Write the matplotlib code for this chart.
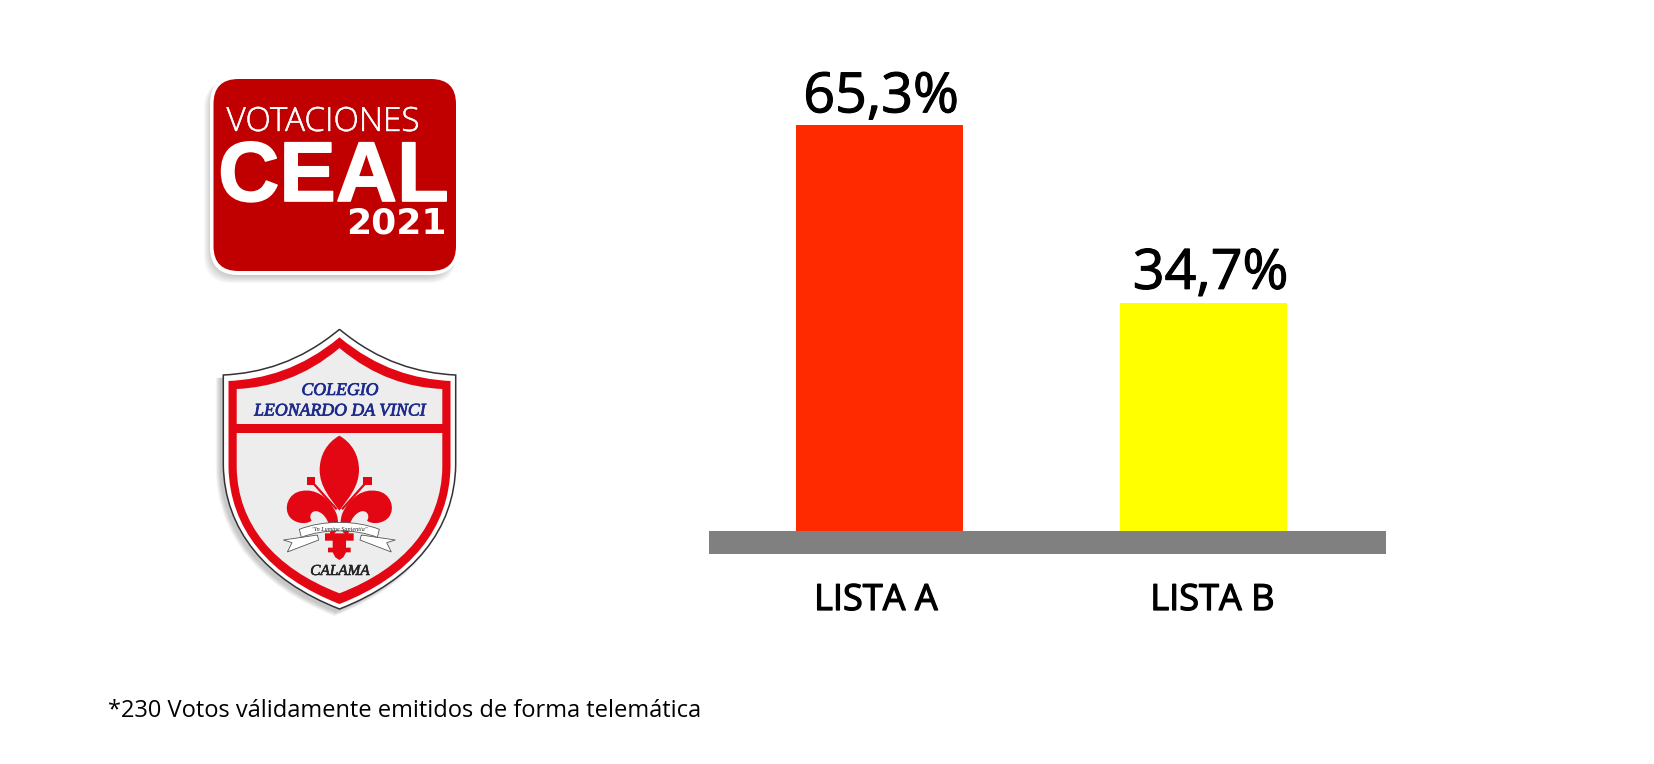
import matplotlib
matplotlib.use('Agg')
import matplotlib.pyplot as plt
import matplotlib.patheffects as pe
from matplotlib.patches import FancyBboxPatch, PathPatch, Rectangle
from matplotlib.path import Path

# datos
listas = ['LISTA A', 'LISTA B']
etiquetas = ['65,3%', '34,7%']
# la barra B del original no va a escala: mide 36,7 aunque dice 34,7
alturas = [65.3, 36.7]
colores = ['#FF2A00', '#FFFF00']
nota = '*230 Votos válidamente emitidos de forma telemática'

W, H = 1654, 764
fig = plt.figure(figsize=(W / 100, H / 100), dpi=100, facecolor='white')

# capa en pixeles para los logos y la nota
bg = fig.add_axes([0, 0, 1, 1])
bg.set_xlim(0, W)
bg.set_ylim(H, 0)
bg.axis('off')

SERIF = 'Liberation Serif'
SANS = 'Open Sans'


def grueso(w, color='black'):
    return [pe.withStroke(linewidth=w, foreground=color)]


# ---------- logo votaciones ----------
def caja(x0, y0, x1, y1, r, **kw):
    p = FancyBboxPatch((x0, y0), x1 - x0, y1 - y0,
                       boxstyle='round,pad=0,rounding_size=%g' % r, **kw)
    bg.add_patch(p)


for i in range(8):
    caja(210 - 6 + i, 76 + 5 - i * 0.3, 458 - 2 - i * 0.5, 275 + 8 - i, 28,
         fc='#555555', ec='none', alpha=0.045)
caja(210, 76, 458, 275, 28, fc='white', ec='none')
caja(213.5, 79, 456, 271, 25, fc='#C00000', ec='none')

bg.text(323, 131, 'VOTACIONES', color='white', fontsize=24, family=SANS,
        weight='light', ha='center', va='baseline', path_effects=grueso(0.3, 'white'))
bg.text(333.5, 201, 'CEAL', color='white', fontsize=61, family='Liberation Sans',
        weight='bold', ha='center', va='baseline', path_effects=grueso(1.2, 'white'))
bg.text(396.5, 234, '2021', color='white', fontsize=26, family='DejaVu Sans',
        weight='bold', ha='center', va='baseline')


# ---------- escudo ----------
def escudo(hw, apex, corner, tip, cx=339.5):
    def p(u, v, y0, y1):
        return (cx + u * hw, y0 + v * (y1 - y0))

    izq = [p(-0.34, 0.72, apex, corner), p(-0.68, 0.96, apex, corner), p(-1, 1, apex, corner),
           p(-1, 0.385, corner, tip),
           p(-0.99, 0.66, corner, tip), p(-0.64, 0.876, corner, tip), p(0, 1, corner, tip)]
    der = [p(0.64, 0.876, corner, tip), p(0.99, 0.66, corner, tip), p(1, 0.385, corner, tip),
           p(1, 1, apex, corner),
           p(0.68, 0.96, apex, corner), p(0.34, 0.72, apex, corner), p(0, 0, apex, corner)]
    verts = [p(0, 0, apex, corner)] + izq + der
    codes = [Path.MOVETO, Path.CURVE4, Path.CURVE4, Path.CURVE4, Path.LINETO,
             Path.CURVE4, Path.CURVE4, Path.CURVE4,
             Path.CURVE4, Path.CURVE4, Path.CURVE4, Path.LINETO,
             Path.CURVE4, Path.CURVE4, Path.CURVE4]
    return Path(verts, codes)


for i in range(8):
    bg.add_patch(PathPatch(escudo(116 + i * 0.4, 332, 378, 612 + i * 0.6, cx=336 - i * 0.2),
                           fc='#444444', ec='none', alpha=0.04))
bg.add_patch(PathPatch(escudo(116.2, 329.3, 375, 609), fc='white', ec='#333333', lw=1.1))
rojo = PathPatch(escudo(111, 337.3, 381, 604), fc='#E30613', ec='none')
bg.add_patch(rojo)
bg.add_patch(PathPatch(escudo(102.8, 348, 389, 593.3), fc='#EDEDED', ec='none'))
bg.add_patch(Rectangle((236, 424), 107 * 2, 8.7, fc='#E30613', ec='none'))

bg.text(340, 395, 'COLEGIO', color='#1D2A8A', fontsize=12.8, family=SERIF,
        style='italic', ha='center', va='baseline', path_effects=grueso(0.5, '#1D2A8A'))
bg.text(340, 415.5, 'LEONARDO DA VINCI', color='#1D2A8A', fontsize=12.8, family=SERIF,
        style='italic', ha='center', va='baseline', path_effects=grueso(0.5, '#1D2A8A'))
bg.text(340, 575, 'CALAMA', color='#222222', fontsize=11, family=SERIF,
        style='italic', ha='center', va='baseline', path_effects=grueso(0.4, '#222222'))


# flor de lis: coordenadas de la zona ampliada x3
def z(x, y):
    return (200 + x / 3, 320 + y / 3)


def m(x, y):
    return z(836 - x, y)


def dibuja(f, pts, codes, **kw):
    bg.add_patch(PathPatch(Path([f(*q) for q in pts], codes), **kw))


C4 = Path.CURVE4
L2 = Path.LINETO
M0 = Path.MOVETO
rojo_flor = dict(fc='#E30613', ec='none')

petalo = [(418, 347), (455, 368), (477, 405), (477, 450),
          (477, 500), (445, 535), (418, 572),
          (391, 535), (359, 500), (359, 450),
          (359, 405), (381, 368), (418, 347)]
dibuja(z, petalo, [M0] + [C4] * 12, **rojo_flor)

lobulo = [(408, 578), (385, 530), (345, 505), (305, 513),
          (265, 518), (248, 565), (270, 592),
          (285, 610), (318, 615), (335, 602),
          (325, 588), (335, 570), (352, 574),
          (375, 580), (392, 610), (390, 645),
          (418, 645), (418, 600), (408, 578)]
lob_codes = [M0] + [C4] * 18
for f in (z, m):
    dibuja(f, lobulo, lob_codes, **rojo_flor)
    # cuadrito y linea diagonal
    dibuja(f, [(320, 470), (346, 470), (346, 496), (320, 496), (320, 470)],
           [M0, L2, L2, L2, L2], **rojo_flor)
    dibuja(f, [(340, 490), (410, 568)], [M0, L2], fc='none', ec='#E30613', lw=1.6)

tallo = [(375, 640), (461, 640), (461, 662), (438, 662), (438, 683), (452, 683), (452, 697),
         (438, 697), (430, 712), (418, 720), (406, 712), (398, 697), (384, 697), (384, 683),
         (398, 683), (398, 662), (375, 662), (375, 640)]
dibuja(z, tallo, [M0] + [L2] * 17, **rojo_flor)

# cinta
cinta = dict(fc='white', ec='#555555', lw=0.6)
cola = [(352, 645), (250, 660), (276, 668), (262, 696), (356, 660), (352, 645)]
for f in (z, m):
    dibuja(f, cola, [M0] + [L2] * 5, **cinta)
centro = [(298, 628), (370, 600), (466, 600), (538, 628),
          (532, 652), (466, 626), (370, 626), (304, 652), (298, 628)]
dibuja(z, centro, [M0, C4, C4, C4, L2, C4, C4, C4, L2], **cinta)
bg.text(*z(418, 629), '"In Lumine Sapientia"', fontsize=4.4, family=SERIF, style='italic',
        color='#222222', ha='center', va='center')

# nota al pie
bg.text(108, 717, nota, fontsize=17, family=SANS, color='black', ha='left', va='baseline')

# ---------- grafico ----------
x0, x1 = 709.3, 1385.7
y_top, y_bot = 125, 553.7
ax = fig.add_axes([x0 / W, 1 - y_bot / H, (x1 - x0) / W, (y_bot - y_top) / H])
ax.patch.set_alpha(0)
base = (y_bot - 531) / (531 - y_top) * alturas[0]
ax.set_ylim(-base, alturas[0])
ax.set_xlim(-170.2 / 324, 506.2 / 324)
ax.bar(range(len(alturas)), alturas, width=0.5136, color=colores, linewidth=0)
ax.axhspan(-base, 0, color='#808080', linewidth=0)
ax.axis('off')

offs_val = [(1.5, 12.7), (7, 14)]
offs_lista = [(-3.5, -79), (9, -79)]
for i in range(len(alturas)):
    ax.annotate(etiquetas[i], (i, alturas[i]), xytext=offs_val[i], textcoords='offset pixels',
                fontsize=40, family=SANS, ha='center', va='baseline', annotation_clip=False,
                path_effects=grueso(0.8))
    ax.annotate(listas[i], (i, 0), xytext=offs_lista[i], textcoords='offset pixels',
                fontsize=26, family=SANS, ha='center', va='baseline', annotation_clip=False,
                path_effects=grueso(0.9))

fig.savefig('out.png', dpi=100)
